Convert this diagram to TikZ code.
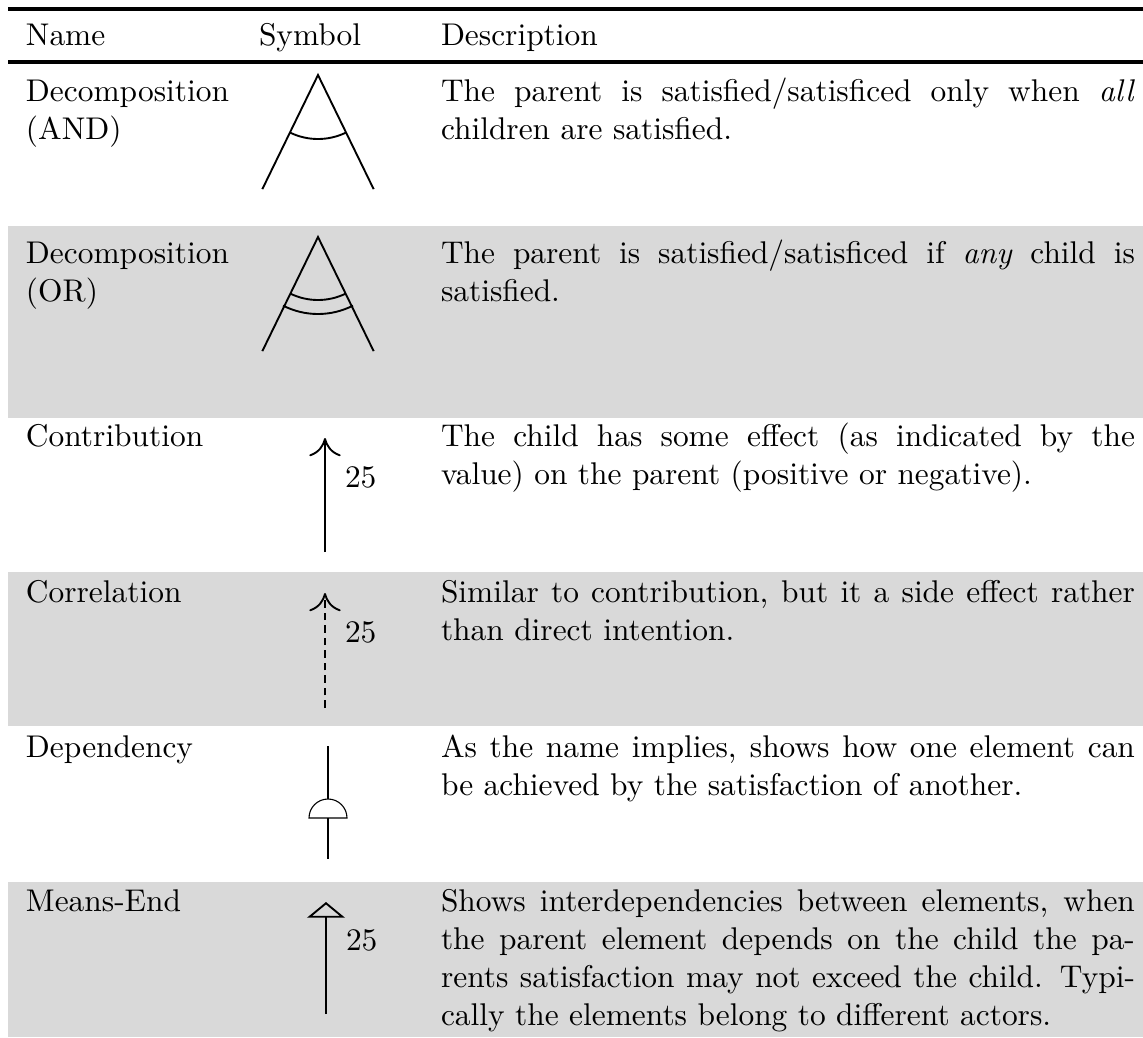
\documentclass[tikz,border=0pt]{standalone}
\usetikzlibrary{arrows.meta}
\definecolor{rowgray}{gray}{0.85}
\tikzset{
  cell/.style={anchor=base west, inner sep=0pt, outer sep=0pt},
  lbl/.style={anchor=base west, inner sep=0pt, outer sep=0pt},
  sym/.style={line width=0.6pt, line cap=butt},
  thinsym/.style={line width=0.35pt},
  toprl/.style={line width=1.1pt},
  barb/.style={-{To[length=5.8pt,width=10pt]}},
  opentri/.style={-{Triangle[open,length=5pt,width=12pt]}},
}
% one justified line of the description column
\newcommand{\jline}[1]{\makebox[221pt][s]{#1}}
\begin{document}
\begin{tikzpicture}[x=0.31847pt, y=-0.31847pt]
\useasboundingbox (0,0) rectangle (1143,1037);

% shaded rows
\fill[rowgray] (8,226) rectangle (1143,418);
\fill[rowgray] (8,572) rectangle (1143,726);
\fill[rowgray] (8,882) rectangle (1143,1037);

% rules
\draw[toprl] (8,9) -- (1143,9);
\draw[toprl] (8,62) -- (1143,62);

% header
\node[cell] (hname) at (26,45) {Name};
\node[cell] (hsym) at (259,45) {Symbol};
\node[cell] (hdesc) at (441,45) {Description};

% row 1: AND decomposition
\node[cell] (n1a) at (26,101) {Decomposition};
\node[cell] (n1b) at (26,139) {(AND)};
\node[cell] (d1a) at (441,101) {\jline{The parent is satisfied/satisficed only when \emph{all}}};
\node[cell] (d1b) at (441,139) {children are satisfied.};
\coordinate (andtop) at (318,75);
\draw[sym] (andtop) ++(116:127) -- (andtop) -- ++(64:127);
\draw[sym] (andtop) ++(116:64) arc[start angle=116, end angle=64, radius=64];

% row 2: OR decomposition
\node[cell] (n2a) at (26,263) {Decomposition};
\node[cell] (n2b) at (26,301) {(OR)};
\node[cell] (d2a) at (441,263) {\jline{The parent is satisfied/satisficed if \emph{any} child is}};
\node[cell] (d2b) at (441,301) {satisfied.};
\coordinate (ortop) at (318,237);
\draw[sym] (ortop) ++(116:127) -- (ortop) -- ++(64:127);
\draw[sym] (ortop) ++(116:63) arc[start angle=116, end angle=64, radius=63];
\draw[sym] (ortop) ++(117:77) arc[start angle=117, end angle=63, radius=77];

% row 3: contribution
\node[cell] (n3) at (26,446) {Contribution};
\node[cell] (d3a) at (441,446) {\jline{The child has some effect (as indicated by the}};
\node[cell] (d3b) at (441,484) {value) on the parent (positive or negative).};
\coordinate (c3top) at (325,438);
\coordinate (c3bot) at (325,552);
\draw[sym, barb] (c3bot) -- (c3top);
\node[lbl] (v3) at (345,487) {25};

% row 4: correlation
\node[cell] (n4) at (26,602) {Correlation};
\node[cell] (d4a) at (441,602) {\jline{Similar to contribution, but it a side effect rather}};
\node[cell] (d4b) at (441,640) {than direct intention.};
\coordinate (c4top) at (325,593);
\coordinate (c4bot) at (325,708);
\draw[sym, dash pattern=on 2.4pt off 1.6pt, barb] (c4bot) -- (c4top);
\node[lbl] (v4) at (345,642) {25};

% row 5: dependency
\node[cell] (n5) at (26,757) {Dependency};
\node[cell] (d5a) at (441,757) {\jline{As the name implies, shows how one element can}};
\node[cell] (d5b) at (441,795) {be achieved by the satisfaction of another.};
\coordinate (dtop) at (328,746);
\coordinate (dcap) at (328,799);
\coordinate (dbase) at (328,818);
\coordinate (dbot) at (328,859);
\draw[sym] (dtop) -- (dcap);
\draw[thinsym] (dbase) ++(-19,0) arc[start angle=180, end angle=360, radius=19] -- cycle;
\draw[sym] (dbase) -- (dbot);

% row 6: means-end
\node[cell] (n6) at (26,911) {Means-End};
\node[cell] (d6a) at (441,911) {\jline{Shows interdependencies between elements, when}};
\node[cell] (d6b) at (441,949) {\jline{the parent element depends on the child the pa-}};
\node[cell] (d6c) at (441,987) {\jline{rents satisfaction may not exceed the child. Typi-}};
\node[cell] (d6d) at (441,1025) {cally the elements belong to different actors.};
\coordinate (m6top) at (326,902);
\coordinate (m6bot) at (326,1014);
\draw[sym, opentri] (m6bot) -- (m6top);
\node[lbl] (v6) at (346,950) {25};
\end{tikzpicture}
\end{document}
